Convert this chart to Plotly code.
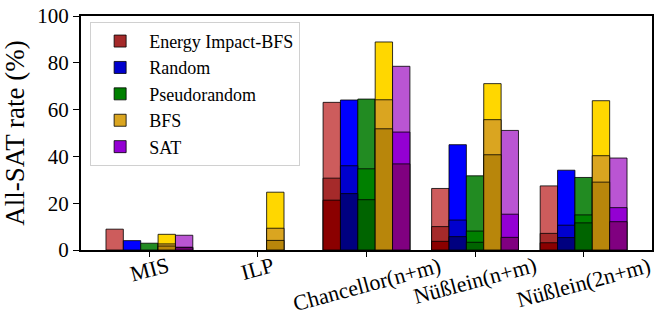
import plotly.graph_objects as go

# categories on the x axis
categories = ["MIS", "ILP", "Chancellor(n+m)", "Nüßlein(n+m)", "Nüßlein(2n+m)"]
methods = ["Energy Impact-BFS", "Random", "Pseudorandom", "BFS", "SAT"]

# All-SAT rate (%) per method: total, middle level, lowest level
ebfs_total = [8.9, 0, 63.1, 26.3, 27.4]
ebfs_mid = [0, 0, 30.7, 10.0, 7.1]
ebfs_low = [0, 0, 21.3, 3.7, 3.1]

rand_total = [4.0, 0, 64.1, 45.0, 34.1]
rand_mid = [0, 0, 36.0, 12.8, 10.6]
rand_low = [0, 0, 24.1, 5.7, 5.3]

pseudo_total = [2.9, 0, 64.5, 31.7, 31.0]
pseudo_mid = [0, 0, 34.7, 8.1, 15.0]
pseudo_low = [0, 0, 21.5, 3.3, 11.6]

bfs_total = [6.7, 24.7, 88.9, 71.1, 63.8]
bfs_mid = [2.6, 9.3, 64.2, 55.7, 40.3]
bfs_low = [1.7, 4.1, 51.8, 40.7, 29.0]

sat_total = [6.3, 0, 78.5, 51.1, 39.3]
sat_mid = [1.2, 0, 50.4, 15.3, 18.1]
sat_low = [1.0, 0, 36.8, 5.4, 12.1]

totals = [ebfs_total, rand_total, pseudo_total, bfs_total, sat_total]
mids = [ebfs_mid, rand_mid, pseudo_mid, bfs_mid, sat_mid]
lows = [ebfs_low, rand_low, pseudo_low, bfs_low, sat_low]

# light / medium / dark shades
light = ["#CD5C5C", "#0000FF", "#228B22", "#FFD700", "#BA55D3"]
medium = ["#A52A2A", "#0000CD", "#008000", "#DAA520", "#9400D3"]
dark = ["#8B0000", "#000080", "#006400", "#B8860B", "#800080"]

FONT = "Times New Roman, Liberation Serif, DejaVu Serif, serif"
width = 0.16
edge = dict(color="rgba(0,0,0,0.8)", width=1)

fig = go.Figure()


def add_level(vals, colors, legend):
    for i, name in enumerate(methods):
        xs = [j + (i - 2) * width for j in range(len(categories))]
        ys = [v if v > 0 else None for v in vals[i]]
        fig.add_trace(go.Bar(
            x=xs, y=ys, width=width, name=name,
            marker=dict(color=colors[i], line=edge),
            showlegend=legend, legendrank=i,
        ))


add_level(totals, light, False)
add_level(mids, medium, True)
add_level(lows, dark, False)

# rotated category labels, centred under each tick
for j, cat in enumerate(categories):
    fig.add_annotation(
        x=j, y=0, xref="x", yref="paper", text=cat, showarrow=False,
        textangle=-15, xanchor="center", yanchor="top", yshift=0,
        font=dict(family=FONT, size=22, color="black"),
    )

fig.update_layout(
    width=665, height=330,
    margin=dict(l=81, r=13, t=16, b=80),
    barmode="overlay",
    plot_bgcolor="white", paper_bgcolor="white",
    font=dict(family=FONT, color="black"),
    legend=dict(
        x=0.016, y=0.975, xanchor="left", yanchor="top",
        bgcolor="white", bordercolor="#d0d0d0", borderwidth=1,
        font=dict(family=FONT, size=18), traceorder="normal",
        itemwidth=48,
    ),
    xaxis=dict(
        range=[-0.63, 4.63], tickvals=list(range(len(categories))),
        showticklabels=False, ticks="outside", ticklen=5, tickcolor="black",
        showline=True, linecolor="black", linewidth=2, mirror=True,
        showgrid=False, zeroline=False, automargin=False,
    ),
    yaxis=dict(
        range=[0, 100], tickvals=[0, 20, 40, 60, 80, 100],
        ticks="outside", ticklen=6, tickcolor="black",
        tickfont=dict(family=FONT, size=21),
        title=dict(text="All-SAT rate (%)", font=dict(family=FONT, size=27), standoff=10),
        showline=True, linecolor="black", linewidth=2, mirror=True,
        showgrid=False, zeroline=False, automargin=False,
    ),
)

# page body has a default 8px margin; remove it so the figure sits at 0,0
fig.write_html(
    "out.html",
    config={"displayModeBar": False},
    post_script="document.body.style.margin = '0px';",
)
